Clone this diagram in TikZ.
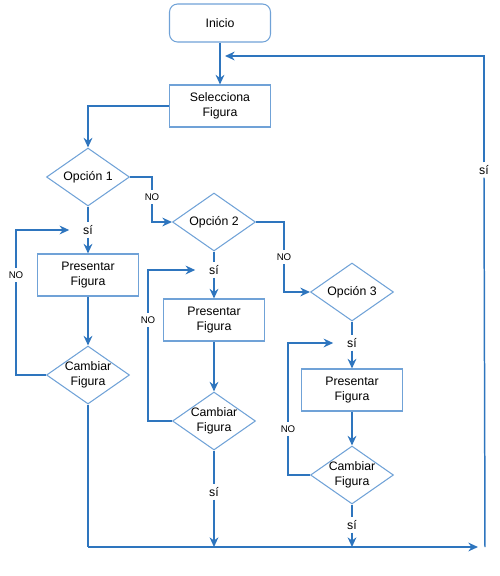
\documentclass[tikz,border=0pt]{standalone}
\usepackage{fontspec}
\setmainfont{Liberation Sans}
\usetikzlibrary{shapes.geometric,arrows.meta}
\definecolor{boxblue}{RGB}{112,162,215}
\definecolor{linkblue}{RGB}{46,117,190}

\tikzset{
  txt/.style={font=\fontsize{7}{8.3}\selectfont},
  box/.style={txt, draw=boxblue, line width=0.6pt, align=center, inner sep=0pt,
    minimum width=2.02cm, minimum height=0.84cm},
  startbox/.style={box, rounded corners=0.16cm, minimum height=0.76cm},
  choice/.style={txt, diamond, aspect=1.43, draw=boxblue, line width=0.6pt,
    align=center, inner sep=-1pt, minimum width=1.66cm, minimum height=1.16cm},
  yes/.style={txt, inner sep=1.5pt},
  no/.style={font=\fontsize{5.5}{6}\selectfont, inner sep=2pt},
  link/.style={draw=linkblue, line width=0.85pt},
  flow/.style={link, -{Stealth[length=5.5pt,width=5pt]}},
  loop/.style={flow, shorten >=0.22cm}
}

\begin{document}
\begin{tikzpicture}[x=0.02cm,y=-0.02cm]
\useasboundingbox (0,0) rectangle (500,576);
% top
\node[startbox] (inicio) at (220,23) {Inicio};
\node[box] (selec) at (220,106) {Selecciona\\Figura};
% options
\node[choice] (opc1) at (88,177) {Opción 1};
\node[choice] (opc2) at (214,222) {Opción 2};
\node[choice] (opc3) at (352,292) {Opción 3};
\node[no] (no1) at (152,197) {NO};
\node[no] (no2) at (284,257) {NO};
% column 1
\node[yes] (si1) at (88,230) {sí};
\node[box] (pres1) at (88,275) {Presentar\\Figura};
\node[choice] (camb1) at (88,375) {Cambiar\\Figura};
\node[no] (no3) at (16,275) {NO};
% column 2
\node[yes] (si2) at (214,270) {sí};
\node[box] (pres2) at (214,320) {Presentar\\Figura};
\node[choice] (camb2) at (214,421) {Cambiar\\Figura};
\node[no] (no4) at (148,320) {NO};
\node[yes] (si4) at (214,492) {sí};
% column 3
\node[yes] (si3) at (352,343) {sí};
\node[box] (pres3) at (352,390) {Presentar\\Figura};
\node[choice] (camb3) at (352,475) {Cambiar\\Figura};
\node[no] (no5) at (288,429) {NO};
\node[yes] (si5) at (352,525) {sí};
% return
\node[yes] (sir) at (484,170) {sí};
\coordinate (bl) at (88,547);
\coordinate (br) at (478,547);
\coordinate (rb) at (485,547);
\coordinate (ret) at (225,56);

\draw[flow] (inicio) -- (selec);
\draw[flow] (selec.west) -| (opc1.north);
\draw[link] (opc1.east) -| (no1.north);
\draw[flow] (no1.south) |- (opc2.west);
\draw[link] (opc2.east) -| (no2.north);
\draw[flow] (no2.south) |- (opc3.west);

\draw[link] (opc1.south) -- (si1.north);
\draw[flow] (si1.south) -- (pres1.north);
\draw[flow] (pres1.south) -- (camb1.north);
\draw[link] (camb1.west) -| (no3.south);
\draw[loop] (no3.north) |- (si1.west);

\draw[link] (opc2.south) -- (si2.north);
\draw[flow] (si2.south) -- (pres2.north);
\draw[flow] (pres2.south) -- (camb2.north);
\draw[link] (camb2.west) -| (no4.south);
\draw[loop] (no4.north) |- (si2.west);

\draw[link] (opc3.south) -- (si3.north);
\draw[flow] (si3.south) -- (pres3.north);
\draw[flow] (pres3.south) -- (camb3.north);
\draw[link] (camb3.west) -| (no5.south);
\draw[loop] (no5.north) |- (si3.west);

\draw[link] (camb1.south) -- (bl);
\draw[flow] (bl) -- (br);
\draw[link] (camb2.south) -- (si4.north);
\draw[flow] (si4.south) -- (si4.south |- bl);
\draw[link] (camb3.south) -- (si5.north);
\draw[flow] (si5.south) -- (si5.south |- bl);
\draw[link] (rb) -- (sir.south);
\draw[flow] (sir.north) |- (ret);
\end{tikzpicture}
\end{document}
